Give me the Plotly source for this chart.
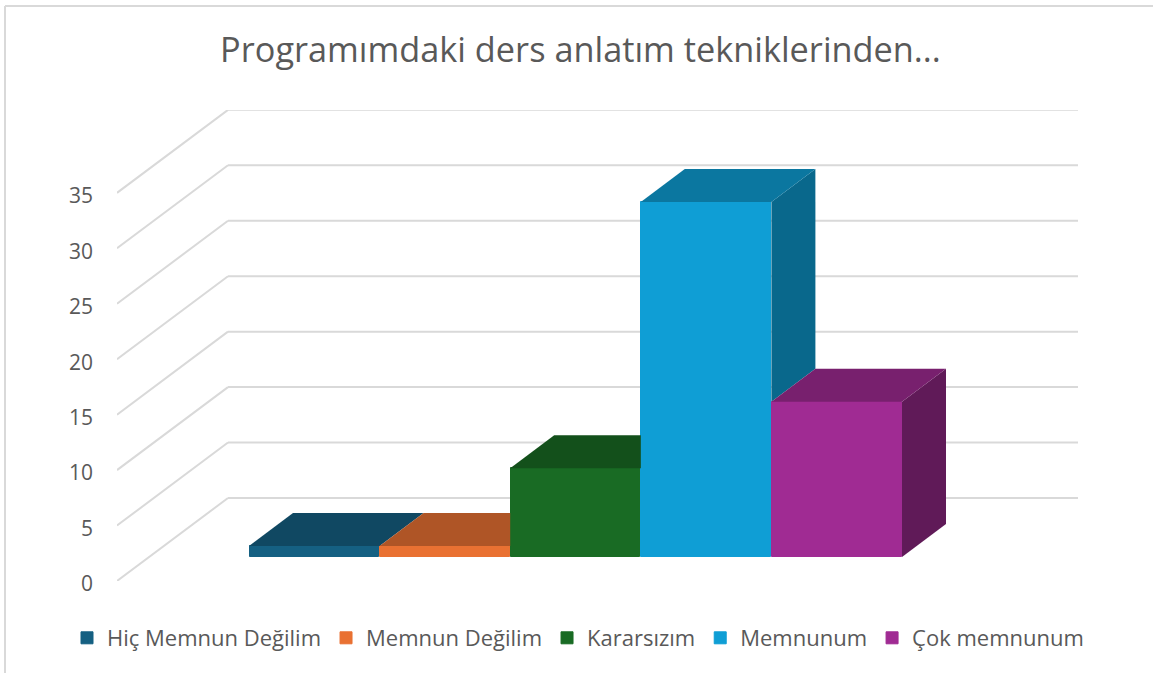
import plotly.graph_objects as go

TITLE = "Programımdaki ders anlatım tekniklerinden..."
categories = ["Hiç Memnun Değilim", "Memnun Değilim", "Kararsızım", "Memnunum", "Çok memnunum"]
values = [1, 1, 8, 32, 14]
front_colors = ["#156082", "#E97132", "#196B24", "#0F9ED5", "#A02B93"]
top_colors = ["#104862", "#AF5526", "#13501B", "#0B77A0", "#78206E"]
side_colors = ["#0D3A4E", "#8C441E", "#0F4016", "#09688C", "#601A58"]
y_ticks = [0, 5, 10, 15, 20, 25, 30, 35]

W, H = 1153, 673
MB = 80                # bottom margin reserved for the legend
PH = H - MB            # height of the paper area
# Oblique "3D" projection, in axis units
PX_W, PX_H = 130.6, 11.09
WALL_DX, WALL_DV = 111 / PX_W, 83 / PX_H
BAR_DX, BAR_DV = 44 / PX_W, 33 / PX_H
BASE = 24 / PX_H
HALF = 0.5
X_MIN, X_MAX = -0.5 - 132 / PX_W, -0.5 + 829 / PX_W
Y_MAX = (581 - 110) / PX_H

fig = go.Figure()

# Front faces: real bars
for i, (c, v) in enumerate(zip(categories, values)):
    fig.add_trace(go.Bar(x=[i], y=[v], base=BASE, width=1 - 1 / PX_W, name=c,
                         marker=dict(color=front_colors[i], line=dict(width=1, color=front_colors[i])),
                         hoverinfo="skip"))

# Side and top faces, painted left to right, cropped where the next bar hides them
for i, v in enumerate(values):
    top = BASE + v
    xl, xr = i - HALF, i + HALF
    nxt = BASE + values[i + 1] if i + 1 < len(values) else BASE
    if nxt < top:
        fig.add_trace(go.Scatter(
            x=[xr, xr + BAR_DX, xr + BAR_DX, xr, xr],
            y=[top, top + BAR_DV, nxt + BAR_DV, nxt, top],
            mode="lines", fill="toself", fillcolor=side_colors[i],
            line=dict(width=0), showlegend=False, hoverinfo="skip"))
    xr_back = xr + BAR_DX if nxt <= top else xr
    fig.add_trace(go.Scatter(
        x=[xl, xl + BAR_DX, xr_back, xr, xl],
        y=[top, top + BAR_DV, top + BAR_DV, top, top],
        mode="lines", fill="toself", fillcolor=top_colors[i],
        line=dict(width=0), showlegend=False, hoverinfo="skip"))

# Gridlines on the side and back walls
GRID = dict(color="#D9D9D9", width=2)
shapes = []
for t in y_ticks:
    shapes.append(dict(type="line", xref="x", yref="y", layer="below", line=GRID,
                       x0=X_MIN, y0=t, x1=X_MIN + WALL_DX, y1=t + WALL_DV))
    shapes.append(dict(type="line", xref="x", yref="y", layer="below", line=GRID,
                       x0=X_MIN + WALL_DX, y0=t + WALL_DV, x1=X_MAX, y1=t + WALL_DV))
# Chart frame
FRAME = dict(color="#D9D9D9", width=2)
shapes.append(dict(type="line", xref="paper", yref="paper", layer="below", line=FRAME,
                   x0=5 / W, y0=-MB / PH, x1=5 / W, y1=1 - 6 / PH))
shapes.append(dict(type="line", xref="paper", yref="paper", layer="below", line=FRAME,
                   x0=5 / W, y0=1 - 6 / PH, x1=1, y1=1 - 6 / PH))

FONT = "Open Sans"
fig.update_layout(
    width=W, height=H, autosize=False,
    margin=dict(l=0, r=0, t=0, b=MB),
    paper_bgcolor="white", plot_bgcolor="rgba(0,0,0,0)",
    font=dict(family=FONT, color="#595959"),
    title=dict(text=TITLE, x=580.5 / W, xanchor="center", y=1 - 50 / H, yanchor="middle",
               font=dict(size=34.3, family=FONT, color="#595959")),
    barmode="overlay", bargap=0,
    shapes=shapes,
    xaxis=dict(domain=[117 / W, 1078 / W], range=[X_MIN, X_MAX], showgrid=False, zeroline=False,
               showticklabels=False, showline=False, ticks=""),
    yaxis=dict(domain=[1 - 581 / PH, 1 - 110 / PH], range=[0, Y_MAX], tickvals=y_ticks, showgrid=False,
               zeroline=False, showline=False, ticks="", ticklabelstandoff=23, ticklabelshift=3,
               tickfont=dict(size=21, family=FONT, color="#595959")),
    legend=dict(orientation="h", xref="container", yref="container",
                x=578 / W, xanchor="center", y=1 - 638 / H, yanchor="middle",
                font=dict(size=22, family=FONT, color="#595959"), itemwidth=30,
                itemclick=False, itemdoubleclick=False),
)

fig.write_html("out.html", config={"displayModeBar": False, "responsive": False},
               post_script="document.body.style.margin='0';")
